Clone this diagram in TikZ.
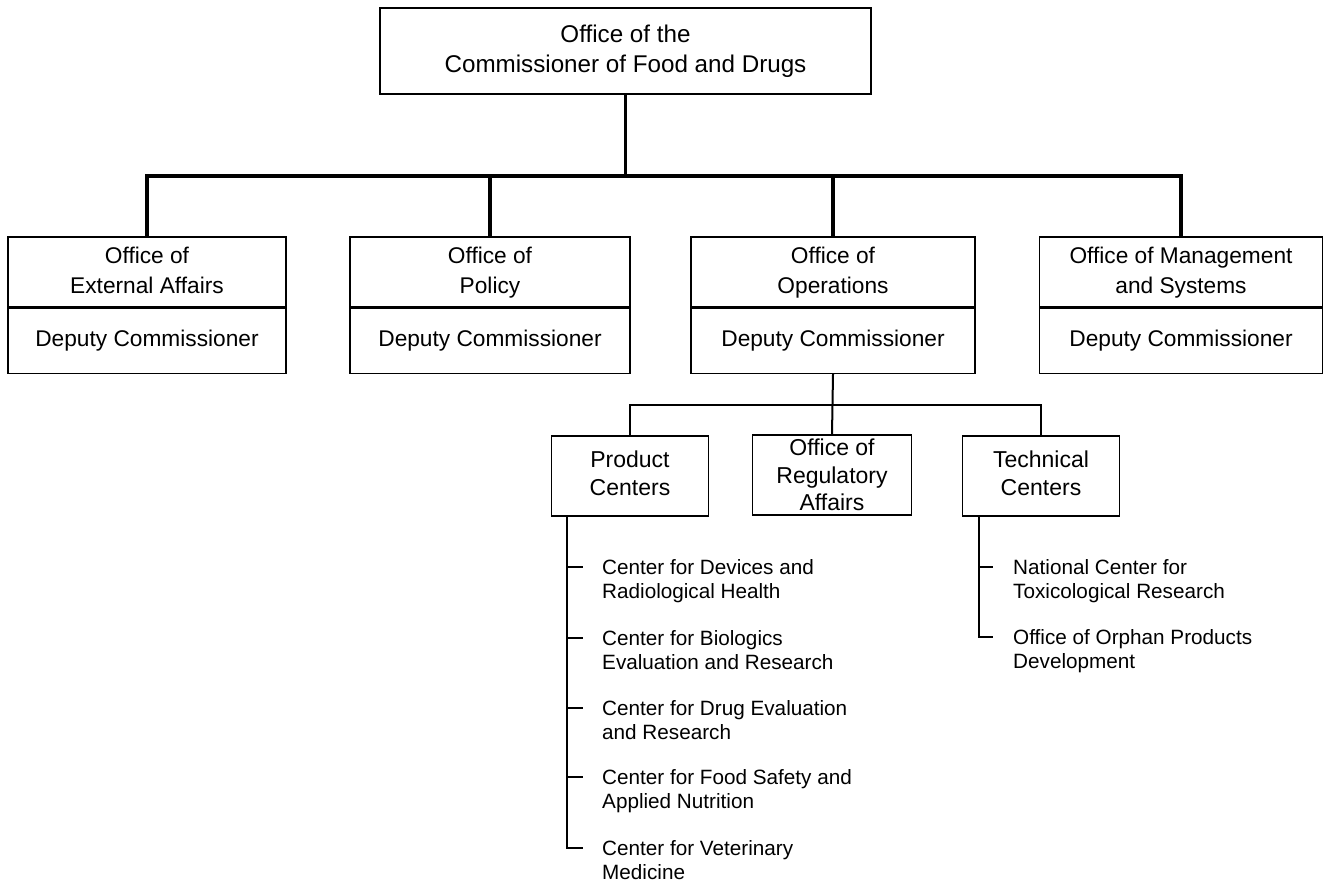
\documentclass[tikz,border=0pt]{standalone}
\usepackage{fontspec}
\setmainfont{Liberation Sans}
\begin{document}
\begin{tikzpicture}[x=1pt,y=-1pt,
  box/.style={draw, line width=1.4pt, inner sep=0pt, align=center},
  hdr/.style={box, minimum height=70pt, font=\fontsize{22.7}{30}\selectfont},
  dep/.style={box, minimum height=65pt, anchor=north, font=\fontsize{22.7}{30}\selectfont},
  subbox/.style={box, minimum width=157pt, minimum height=80pt, font=\fontsize{23}{27.5}\selectfont},
  item/.style={anchor=north west, inner sep=0pt, align=left, font=\fontsize{20.7}{24}\selectfont},
  trunk/.style={line width=3.8pt},
  branch/.style={line width=2pt},
  twig/.style={line width=2pt}]
\useasboundingbox (0,0) rectangle (1327,889);

% top
\node[box, minimum width=491pt, minimum height=86pt, font=\fontsize{24.2}{30}\selectfont] (top) at (625.5,51) {\strut Office of the\\\strut Commissioner of Food and Drugs};

% level 1
\node[hdr, minimum width=278pt] (ext) at (147,272) {\strut Office of\\\strut External Affairs};
\node[dep, minimum width=278pt] (extd) at (ext.south) {Deputy Commissioner};
\node[hdr, minimum width=280pt] (pol) at (490,272) {\strut Office of\\\strut Policy};
\node[dep, minimum width=280pt] (pold) at (pol.south) {Deputy Commissioner};
\node[hdr, minimum width=284pt] (ops) at (833,272) {\strut Office of\\\strut Operations};
\node[dep, minimum width=284pt] (opsd) at (ops.south) {Deputy Commissioner};
\node[hdr, minimum width=283pt] (mgmt) at (1181,272) {\strut Office of Management\\\strut and Systems};
\node[dep, minimum width=283pt] (mgmtd) at (mgmt.south) {Deputy Commissioner};

\coordinate (bus) at (0,176);
\draw[trunk] (top.south) -- (top.south |- bus);
\draw[trunk] (ext.north) -- (ext.north |- bus) -- (mgmt.north |- bus) -- (mgmt.north);
\draw[trunk] (pol.north) -- (pol.north |- bus);
\draw[trunk] (ops.north) -- (ops.north |- bus);

% level 2
\node[subbox] (prod) at (630,476) {\strut Product\\\strut Centers};
\node[subbox, minimum width=159pt] (reg) at (832,475) {Office of\\Regulatory\\Affairs};
\node[subbox] (tech) at (1041,476) {\strut Technical\\\strut Centers};

\coordinate (sbus) at (0,405);
\draw[branch] (opsd.south) -- (reg.north);
\draw[branch] (prod.north) -- (prod.north |- sbus) -- (tech.north |- sbus) -- (tech.north);

% product centers list
\node[item] (p1) at (602,559.5) {Center for Devices and\\Radiological Health};
\node[item] (p2) at (602,630.5) {Center for Biologics\\Evaluation and Research};
\node[item] (p3) at (602,700.5) {Center for Drug Evaluation\\and Research};
\node[item] (p4) at (602,769.5) {Center for Food Safety and\\Applied Nutrition};
\node[item] (p5) at (602,840.5) {Center for Veterinary\\Medicine};
\coordinate (pltop) at ([xshift=16pt]prod.south west);
\foreach \i in {1,...,5} {
  \coordinate (pt\i) at ([xshift=-19pt,yshift=-7.5pt]p\i.north west);
}
\draw[twig] (pltop) |- (pt5);
\foreach \i in {1,...,4} {
  \draw[twig] (pltop |- pt\i) -- (pt\i);
}

% technical centers list
\node[item] (t1) at (1013,559.5) {National Center for\\Toxicological Research};
\node[item] (t2) at (1013,629.5) {Office of Orphan Products\\Development};
\coordinate (tltop) at ([xshift=17pt]tech.south west);
\coordinate (tt1) at ([xshift=-20pt,yshift=-7.5pt]t1.north west);
\coordinate (tt2) at ([xshift=-20pt,yshift=-7.5pt]t2.north west);
\draw[twig] (tltop) |- (tt2);
\draw[twig] (tltop |- tt1) -- (tt1);
\end{tikzpicture}
\end{document}
